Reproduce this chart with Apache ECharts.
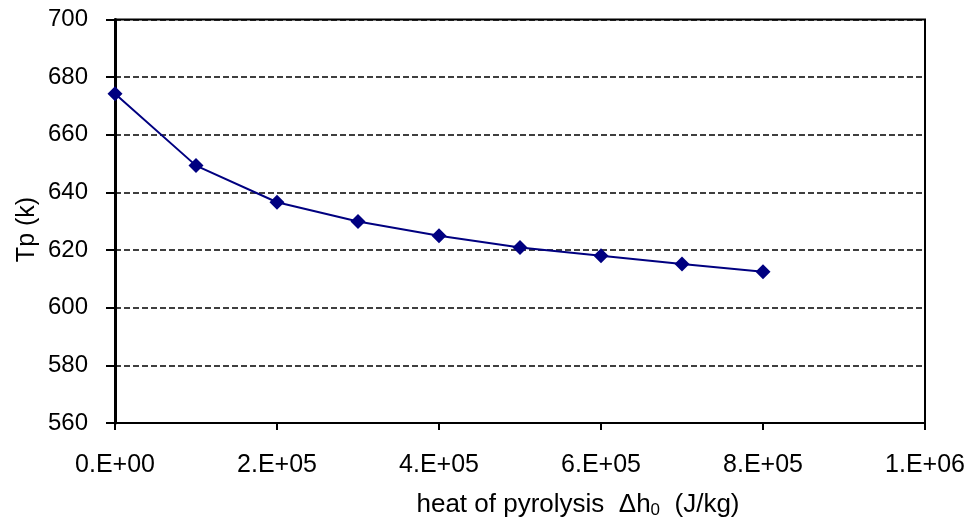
<!DOCTYPE html>
<html>
<head>
<meta charset="utf-8">
<script src="https://cdn.jsdelivr.net/npm/echarts@6/dist/echarts.min.js"></script>
<style>html,body{margin:0;padding:0;background:#fff;}#c{width:971px;height:523px;}</style>
</head>
<body>
<div id="c"></div>
<script>
const heatValues = [0, 100000, 200000, 300000, 400000, 500000, 600000, 700000, 800000];
const tpValues = [674.2, 649.3, 636.6, 629.9, 625.0, 620.9, 618.0, 615.2, 612.5];
const xTickValues = [0, 200000, 400000, 600000, 800000, 1000000];
const xTickLabels = ['0.E+00', '2.E+05', '4.E+05', '6.E+05', '8.E+05', '1.E+06'];
const yAxisName = 'Tp (k)';
const xAxisTitle = 'heat of pyrolysis  Δh{sub|0}  (J/kg)';

const FONT = 'Liberation Sans, Arial, sans-serif';
const chart = echarts.init(document.getElementById('c'), null, {renderer: 'canvas'});
chart.setOption({
  animation: false,
  backgroundColor: '#fff',
  grid: {left: 115, right: 46, top: 19.5, bottom: 100, show: true, borderColor: '#000', borderWidth: 2, backgroundColor: 'transparent'},
  xAxis: {
    type: 'value', min: 0, max: 1000000, interval: 200000,
    axisLine: {show: true, onZero: false, lineStyle: {color: '#000', width: 2}},
    axisTick: {show: true, length: 7, lineStyle: {color: '#000', width: 2}},
    splitLine: {show: false},
    axisLabel: {
      color: '#000', fontSize: 25, fontFamily: FONT, margin: 30,
      formatter: v => { const i = xTickValues.indexOf(v); return i >= 0 ? xTickLabels[i] : ''; }
    }
  },
  yAxis: {
    type: 'value', min: 560, max: 700, interval: 20,
    axisLine: {show: true, lineStyle: {color: '#000', width: 3}},
    axisTick: {show: true, length: 9, lineStyle: {color: '#000', width: 2}},
    splitLine: {show: true, lineStyle: {color: '#000', width: 1.5, type: [6, 3]}},
    axisLabel: {color: '#000', fontSize: 24, fontFamily: FONT, margin: 27}
  },
  graphic: [{
    type: 'text', x: 578, y: 505,
    style: {
      text: xAxisTitle,
      align: 'center', verticalAlign: 'middle',
      rich: {sub: {fontSize: 17, fontFamily: FONT, fill: '#000', padding: [10, 0, 0, 0]}},
      fontSize: 26, fontFamily: FONT, fill: '#000'
    }
  }, {
    type: 'text', x: 27, y: 229.5, rotation: Math.PI / 2,
    style: {
      text: yAxisName, align: 'center', verticalAlign: 'middle',
      fontSize: 25, fontFamily: FONT, fill: '#000'
    }
  }],
  series: [{
    type: 'line',
    data: heatValues.map((x, i) => [x, tpValues[i]]),
    symbol: 'diamond', symbolSize: 15,
    lineStyle: {color: '#000080', width: 2},
    itemStyle: {color: '#000080'},
    clip: false
  }]
});
</script>
</body>
</html>
